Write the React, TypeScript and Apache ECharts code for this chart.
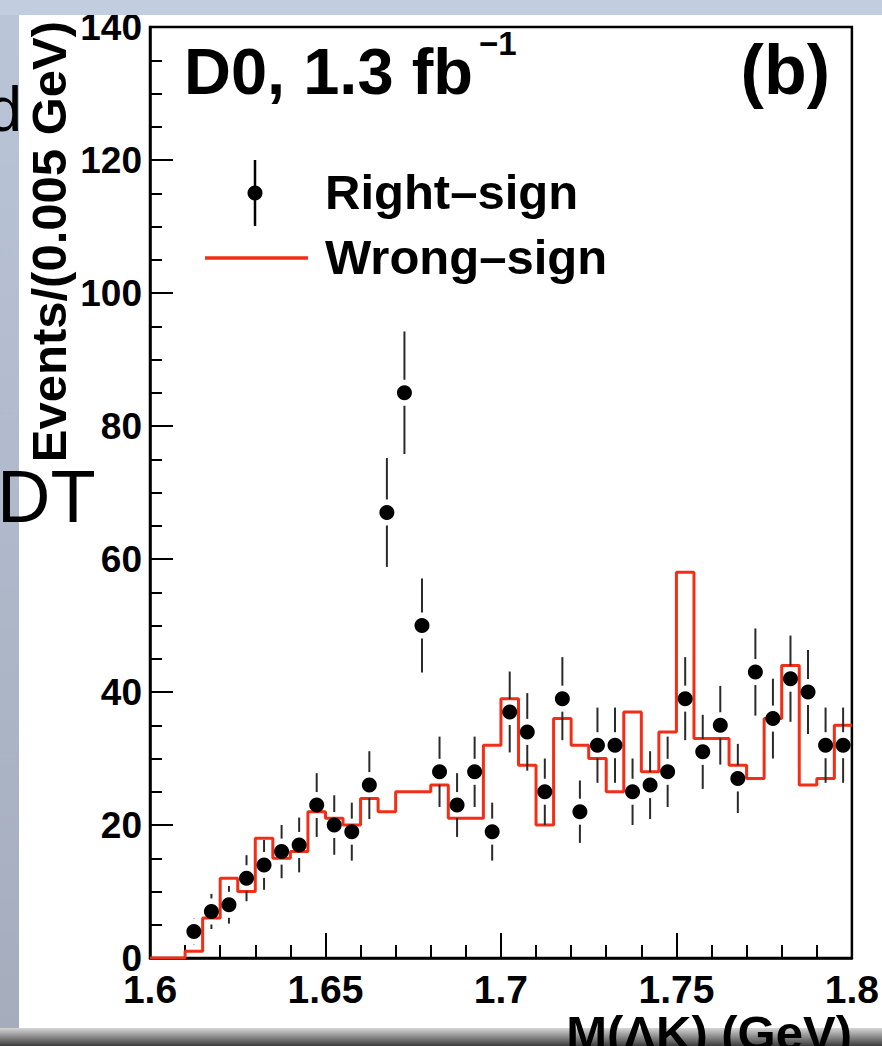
import React, { useEffect, useRef } from "react";
import * as echarts from "echarts";

const X_MIN = 1.6;
const X_MAX = 1.8;
const BIN_WIDTH = 0.005;
const Y_MIN = 0;
const Y_MAX = 140;

// Right-sign events per bin (40 bins of 0.005 GeV from 1.6 to 1.8)
const rightSign = [
  0, 0, 4, 7, 8, 12, 14, 16, 17, 23,
  20, 19, 26, 67, 85, 50, 28, 23, 28, 19,
  37, 34, 25, 39, 22, 32, 32, 25, 26, 28,
  39, 31, 35, 27, 43, 36, 42, 40, 32, 32,
];

// Wrong-sign events per bin
const wrongSign = [
  0, 0, 1, 6, 12, 10, 18, 15, 16, 22,
  21, 20, 24, 22, 25, 25, 26, 21, 21, 32,
  39, 29, 20, 36, 32, 30, 25, 37, 28, 34,
  58, 33, 33, 29, 27, 36, 44, 26, 27, 35,
];

const xTitle = "M(ΛK) (GeV)";
const yTitle = "Events/(0.005 GeV)";
const expLabel = "D0, 1.3 fb";
const expSup = "−1";
const panelLabel = "(b)";
const legendNames = ["Right–sign", "Wrong–sign"];

const FONT = '"Liberation Sans", Arial, Helvetica, sans-serif';
const RED = "#f42e16";

export default function App() {
  const ref = useRef<HTMLDivElement>(null);

  useEffect(() => {
    const el = ref.current;
    if (!el) return;
    const chart = echarts.init(el, null, { renderer: "svg" });

    const stepData: number[][] = wrongSign.map((v, i) => [X_MIN + i * BIN_WIDTH, v]);
    stepData.push([X_MAX, wrongSign[wrongSign.length - 1]]);

    const points: number[][] = rightSign
      .map((v, i) => [X_MIN + (i + 0.5) * BIN_WIDTH, v, Math.sqrt(v)])
      .filter((p) => p[1] > 0);

    const gap = 13;

    const option: any = {
      animation: false,
      backgroundColor: "#ffffff",
      grid: {
        left: 150,
        right: 29.3,
        top: 27,
        bottom: 88,
        show: true,
        borderColor: "#000",
        borderWidth: 2.5,
        backgroundColor: "transparent",
        containLabel: false,
      },
      xAxis: {
        type: "value",
        min: X_MIN,
        max: X_MAX,
        interval: 0.05,
        axisLine: { show: true, onZero: false, lineStyle: { color: "#000", width: 2.5 } },
        axisTick: { show: true, inside: true, length: 25, lineStyle: { color: "#000", width: 2 } },
        minorTick: { show: true, splitNumber: 5, length: 13, lineStyle: { color: "#000", width: 2 } },
        splitLine: { show: false },
        minorSplitLine: { show: false },
        axisLabel: {
          fontSize: 39,
          fontWeight: "bold",
          fontFamily: FONT,
          color: "#000",
          margin: 12,
          formatter: (v: number) => String(+v.toFixed(2)),
        },
      },
      yAxis: {
        type: "value",
        min: Y_MIN,
        max: Y_MAX,
        interval: 20,
        axisLine: { show: true, onZero: false, lineStyle: { color: "#000", width: 2.5 } },
        axisTick: { show: true, inside: true, length: 23, lineStyle: { color: "#000", width: 2 } },
        minorTick: { show: true, splitNumber: 4, length: 12, lineStyle: { color: "#000", width: 2 } },
        splitLine: { show: false },
        minorSplitLine: { show: false },
        axisLabel: {
          fontSize: 37,
          fontWeight: "bold",
          fontFamily: FONT,
          color: "#000",
          margin: 8,
        },
      },
      series: [
        {
          name: legendNames[1],
          type: "line",
          step: "end",
          data: stepData,
          symbol: "none",
          lineStyle: { color: RED, width: 3 },
          z: 2,
        },
        {
          name: "errors",
          type: "custom",
          data: points,
          encode: { x: 0, y: 1 },
          z: 3,
          renderItem: (params: any, api: any) => {
            const x = api.value(0);
            const v = api.value(1);
            const e = api.value(2);
            const c = api.coord([x, v]);
            const top = api.coord([x, v + e])[1];
            const bot = api.coord([x, v - e])[1];
            const children: any[] = [];
            if (c[1] - gap > top) {
              children.push({
                type: "line",
                shape: { x1: c[0], y1: top, x2: c[0], y2: c[1] - gap },
                style: { stroke: "#2a2a2a", lineWidth: 2 },
              });
            }
            if (bot > c[1] + gap) {
              children.push({
                type: "line",
                shape: { x1: c[0], y1: c[1] + gap, x2: c[0], y2: bot },
                style: { stroke: "#2a2a2a", lineWidth: 2 },
              });
            }
            return { type: "group", children };
          },
        },
        {
          name: legendNames[0],
          type: "scatter",
          data: points.map((p) => [p[0], p[1]]),
          symbol: "circle",
          symbolSize: 15,
          itemStyle: { color: "#000", opacity: 1 },
          z: 4,
        },
      ],
      graphic: [
        // surrounding screenshot bands
        {
          type: "rect",
          z: 100,
          shape: { x: 0, y: 0, width: 882, height: 15 },
          style: { fill: "#c3cde0" },
        },
        {
          type: "rect",
          z: 100,
          shape: { x: 0, y: 15, width: 19, height: 1013 },
          style: {
            fill: new echarts.graphic.LinearGradient(0, 0, 0, 1, [
              { offset: 0, color: "#bac5d8" },
              { offset: 1, color: "#a5adbd" },
            ]),
          },
        },
        {
          type: "rect",
          z: 100,
          shape: { x: 0, y: 1028, width: 882, height: 18 },
          style: {
            fill: new echarts.graphic.LinearGradient(0, 0, 0, 1, [
              { offset: 0, color: "#d6d6d6" },
              { offset: 1, color: "#3c3c3c" },
            ]),
          },
        },
        {
          type: "text",
          z: 101,
          x: -13,
          y: 109,
          style: { text: "d", fontSize: 63, fontFamily: FONT, fill: "#000", verticalAlign: "middle", align: "left" },
        },
        {
          type: "text",
          z: 101,
          x: -3,
          y: 496,
          style: { text: "DT", fontSize: 74, fontFamily: FONT, fill: "#000", verticalAlign: "middle", align: "left" },
        },
        // axis titles
        {
          type: "text",
          z: 101,
          x: 852,
          y: 1008,
          style: {
            text: xTitle,
            fontSize: 49,
            fontWeight: "bold",
            fontFamily: FONT,
            fill: "#000",
            align: "right",
            verticalAlign: "top",
          },
        },
        {
          type: "text",
          z: 50,
          x: 24,
          y: 21,
          rotation: Math.PI / 2,
          style: {
            text: yTitle,
            fontSize: 49,
            fontWeight: "bold",
            fontFamily: FONT,
            fill: "#000",
            align: "right",
            verticalAlign: "top",
          },
        },
        // labels inside frame
        {
          type: "text",
          z: 50,
          x: 184,
          y: 71,
          style: { text: expLabel, fontSize: 65, fontWeight: "bold", fontFamily: FONT, fill: "#000", align: "left", verticalAlign: "middle" },
        },
        {
          type: "text",
          z: 50,
          x: 479,
          y: 43,
          style: { text: expSup, fontSize: 33, fontWeight: "bold", fontFamily: FONT, fill: "#000", align: "left", verticalAlign: "middle" },
        },
        {
          type: "text",
          z: 50,
          x: 830,
          y: 70,
          style: { text: panelLabel, fontSize: 70, fontWeight: "bold", fontFamily: FONT, fill: "#000", align: "right", verticalAlign: "middle" },
        },
        // legend
        {
          type: "line",
          z: 50,
          shape: { x1: 255, y1: 160, x2: 255, y2: 226 },
          style: { stroke: "#000", lineWidth: 2.5 },
        },
        {
          type: "circle",
          z: 51,
          shape: { cx: 255, cy: 193, r: 7.5 },
          style: { fill: "#000" },
        },
        {
          type: "line",
          z: 50,
          shape: { x1: 205, y1: 258, x2: 308, y2: 258 },
          style: { stroke: RED, lineWidth: 3.5 },
        },
        {
          type: "text",
          z: 50,
          x: 325,
          y: 192,
          style: { text: legendNames[0], fontSize: 49, fontWeight: "bold", fontFamily: FONT, fill: "#000", align: "left", verticalAlign: "middle" },
        },
        {
          type: "text",
          z: 50,
          x: 325,
          y: 257,
          style: { text: legendNames[1], fontSize: 49, fontWeight: "bold", fontFamily: FONT, fill: "#000", align: "left", verticalAlign: "middle" },
        },
      ],
    };

    chart.setOption(option);
    return () => {
      chart.dispose();
    };
  }, []);

  return (
    <div
      ref={ref}
      style={{ position: "fixed", left: 0, top: 0, width: 882, height: 1046, background: "#fff" }}
    />
  );
}
